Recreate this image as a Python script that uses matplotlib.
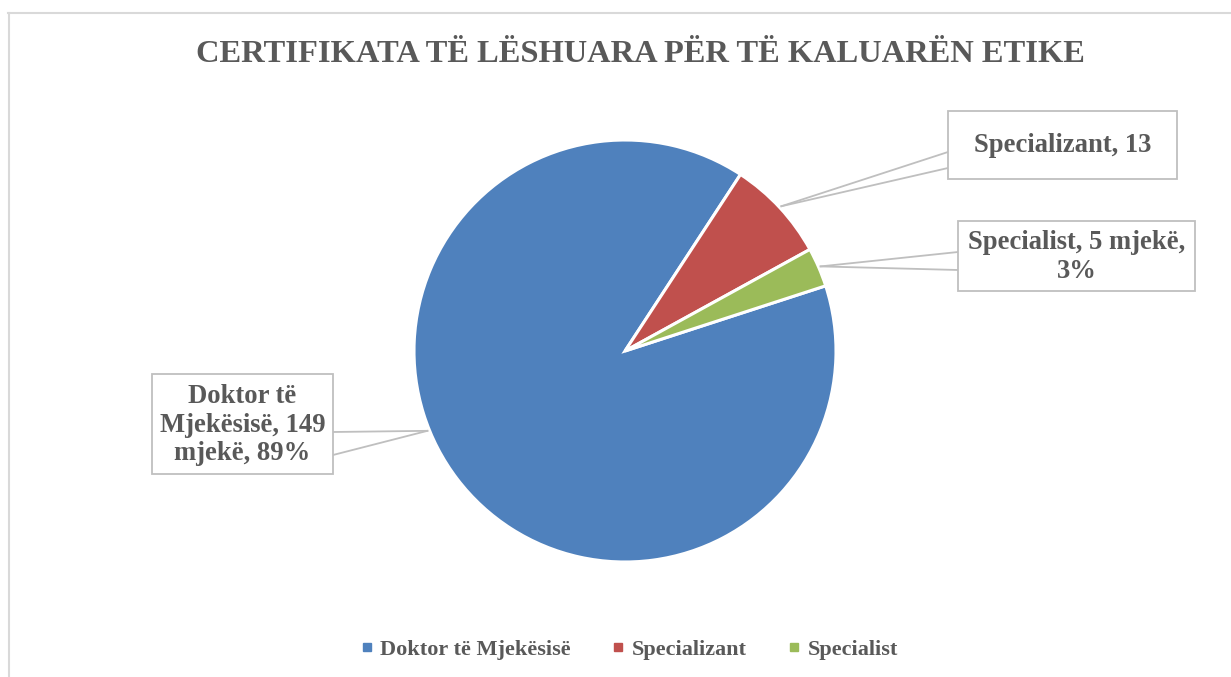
import matplotlib
matplotlib.use("Agg")
import numpy as np
import matplotlib.pyplot as plt
from matplotlib.patches import Rectangle
from matplotlib.lines import Line2D
from matplotlib.font_manager import FontProperties

categories = ["Doktor të Mjekësisë", "Specializant", "Specialist"]
values = [149, 13, 5]
colors = ["#4F81BD", "#C0504D", "#9BBB59"]
label_texts = ["Doktor të\nMjekësisë, 149\nmjekë, 89%",
               "Specializant, 13",
               "Specialist, 5 mjekë,\n3%"]
title = "CERTIFIKATA TË LËSHUARA PËR TË KALUARËN ETIKE"

W, H = 1231, 677
TXT = "#595959"
plt.rcParams['font.family'] = ['Liberation Serif', 'DejaVu Serif']
plt.rcParams['font.weight'] = 'bold'

fig = plt.figure(figsize=(W / 100, H / 100), dpi=100)
ax = fig.add_axes([0, 0, 1, 1])

cx, cy, r = 625, H - 351, 211
wedges, _ = ax.pie(values, colors=colors, startangle=18, counterclock=False,
                   center=(cx, cy), radius=r,
                   wedgeprops=dict(edgecolor="white", linewidth=2.2))
ax.set_xlim(0, W)
ax.set_ylim(0, H)
ax.set_aspect("equal")
ax.axis("off")

# label boxes (x0, y0_top, x1, y1_bottom) in pixels from top-left, and callout edge rows
boxes = [(152, 374, 333, 474), (948, 111, 1177, 179), (958, 221, 1195, 291)]
callout_y = [(432, 455), (152, 168), (252, 270)]
anchor_angle = [202, None, None]

for i, w in enumerate(wedges):
    x0, y0, x1, y1 = boxes[i]
    ax.add_patch(Rectangle((x0, H - y1), x1 - x0, y1 - y0, facecolor="white",
                           edgecolor="#BFBFBF", linewidth=1.3, zorder=3))
    ax.text((x0 + x1) / 2, H - (y0 + y1) / 2 - 1, label_texts[i], ha="center",
            va="center", fontsize=19.2, color=TXT, fontweight="bold",
            linespacing=1.17, zorder=4)
    ang = anchor_angle[i]
    if ang is None:
        ang = (w.theta1 + w.theta2) / 2
    px = cx + r * 1.01 * np.cos(np.radians(ang))
    py = cy + r * 1.01 * np.sin(np.radians(ang))
    ex = x1 if px > x1 else x0
    for ey in callout_y[i]:
        ax.plot([px, ex], [py, H - ey], color="#BFBFBF", lw=1.3, zorder=2)

fig.text(640 / W, 1 - 54 / H, title, ha="center", va="center", fontsize=23.4,
         color=TXT, fontweight="bold")

legend_font = FontProperties(family="Liberation Serif", weight="bold", size=16)
handles = [Line2D([], [], marker="s", linestyle="none", markersize=5.5,
                  markerfacecolor=c, markeredgecolor=c) for c in colors]
leg = ax.legend(handles, categories, loc="center", bbox_to_anchor=(629 / W, 1 - 650 / H),
                ncol=3, frameon=False, handlelength=0.6, handletextpad=0.3,
                columnspacing=1.85, prop=legend_font, labelcolor=TXT)
for t in leg.get_texts():
    t.set_fontproperties(legend_font)

# chart frame (top and left edges visible)
fig.add_artist(Line2D([8 / W, 1], [1 - 13 / H, 1 - 13 / H], color="#D9D9D9", lw=1.5))
fig.add_artist(Line2D([8.5 / W, 8.5 / W], [0, 1 - 13 / H], color="#D9D9D9", lw=1.5))

fig.savefig("out.png", dpi=100, facecolor="white")
